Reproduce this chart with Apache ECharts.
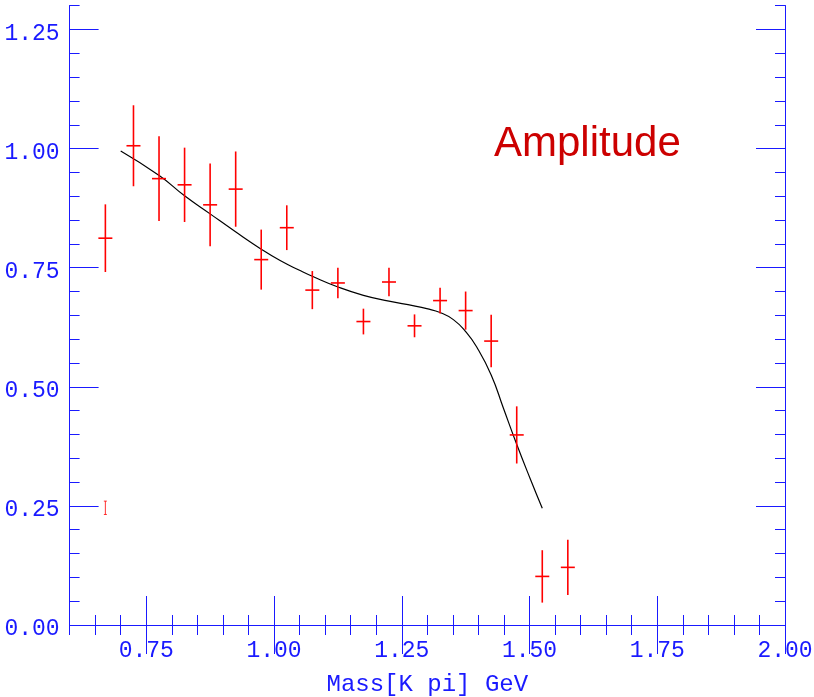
<!DOCTYPE html>
<html>
<head>
<meta charset="utf-8">
<script src="https://cdn.jsdelivr.net/npm/echarts@6/dist/echarts.min.js"></script>
<style>html,body{margin:0;padding:0;background:#fff}#c{width:814px;height:697px}</style>
</head>
<body>
<div id="c"></div>
<script>
// ---- data ----
const massX  = [0.670,0.725,0.775,0.825,0.875,0.925,0.975,1.025,1.075,1.125,1.175,1.225,1.275,1.325,1.375,1.425,1.475,1.525,1.575];
const amp    = [0.812,1.006,0.937,0.924,0.882,0.915,0.767,0.834,0.703,0.718,0.637,0.720,0.628,0.681,0.660,0.596,0.399,0.102,0.121];
const ampErr = [0.071,0.085,0.089,0.078,0.087,0.079,0.063,0.047,0.040,0.032,0.027,0.030,0.024,0.027,0.040,0.055,0.060,0.055,0.058];

const markX = [0.670];
const markY = [0.246];
const markErr = [0.014];

const fitX = [0.700,0.776,0.825,0.875,0.924,0.975,1.012,1.051,1.075,1.124,1.175,1.225,1.274,1.299,1.325,1.351,1.375,1.397,1.425,1.449,1.474,1.501,1.525];
const fitY = [0.995,0.943,0.901,0.863,0.826,0.789,0.765,0.744,0.732,0.710,0.692,0.680,0.670,0.664,0.656,0.641,0.616,0.583,0.525,0.455,0.382,0.308,0.245];

const xMajor = [0.75,1.00,1.25,1.50,1.75,2.00];
const yMajor = [0.00,0.25,0.50,0.75,1.00,1.25];
const xTitle = 'Mass[K pi] GeV';
const label = 'Amplitude';

// ---- styles ----
const BLUE = '#1a1aff';
const FONT = 'Liberation Mono';

function xAx(pos, major, showLabel) {
  const a = {
    type: 'value', min: 0.6, max: 2.0, position: pos,
    axisLine: { show: true, lineStyle: { color: BLUE, width: 1 } },
    splitLine: { show: false },
    axisTick: { show: true, inside: true, length: major ? 29 : 10, lineStyle: { color: BLUE, width: 1 } },
    axisLabel: { show: false }
  };
  if (major) {
    a.axisTick.customValues = xMajor;
    a.axisLabel = { show: showLabel, customValues: xMajor, color: BLUE, fontFamily: FONT, fontSize: 23, margin: 14,
      formatter: v => v.toFixed(2) };
    if (showLabel) {
      a.name = xTitle; a.nameLocation = 'middle'; a.nameGap = 48;
      a.nameTextStyle = { color: BLUE, fontFamily: FONT, fontSize: 24 };
    }
  } else {
    a.interval = 0.05;
  }
  return a;
}
function yAx(pos, major, showLabel) {
  const a = {
    type: 'value', min: 0, max: 1.3, position: pos,
    axisLine: { show: true, lineStyle: { color: BLUE, width: 1 } },
    splitLine: { show: false },
    axisTick: { show: true, inside: true, length: major ? 29 : 10, lineStyle: { color: BLUE, width: 1 } },
    axisLabel: { show: false }
  };
  if (major) {
    a.axisTick.customValues = yMajor;
    a.axisLabel = { show: showLabel, customValues: yMajor, color: BLUE, fontFamily: FONT, fontSize: 23, margin: 10,
      verticalAlign: 'top', lineHeight: 8, formatter: v => v.toFixed(2) };
  } else {
    a.interval = 0.05;
  }
  return a;
}

function errItem(halfW, capW, lw) {
  return function (params, api) {
    const x = api.value(0), y = api.value(1), e = api.value(2);
    const c = api.coord([x, y]);
    const t = api.coord([x, y + e]);
    const b = api.coord([x, y - e]);
    const st = { stroke: '#ff0000', lineWidth: lw };
    const ch = [
      { type: 'line', shape: { x1: c[0], y1: t[1], x2: c[0], y2: b[1] }, style: st }
    ];
    if (halfW > 0) ch.push({ type: 'line', shape: { x1: c[0] - halfW, y1: c[1], x2: c[0] + halfW, y2: c[1] }, style: st });
    if (capW > 0) {
      ch.push({ type: 'line', shape: { x1: c[0] - capW, y1: t[1], x2: c[0] + capW, y2: t[1] }, style: st });
      ch.push({ type: 'line', shape: { x1: c[0] - capW, y1: b[1], x2: c[0] + capW, y2: b[1] }, style: st });
    }
    return { type: 'group', children: ch };
  };
}

const chart = echarts.init(document.getElementById('c'), null, { renderer: 'canvas' });
chart.setOption({
  animation: false,
  backgroundColor: '#ffffff',
  grid: { left: 69.6, right: 29, top: 5.7, bottom: 72, containLabel: false, outerBoundsMode: 'none' },
  xAxis: [xAx('bottom', true, true), xAx('bottom', false), xAx('top', true, false), xAx('top', false)],
  yAxis: [yAx('left', true, true), yAx('left', false), yAx('right', true, false), yAx('right', false)],
  graphic: [{
    type: 'text', left: 494, top: 123,
    style: { text: label, fill: '#cc0000', font: '42px "Liberation Sans", Arial, sans-serif' }
  }],
  series: [
    {
      type: 'line', xAxisIndex: 0, yAxisIndex: 0, smooth: true, showSymbol: false,
      lineStyle: { color: '#000000', width: 1.2 },
      data: fitX.map((x, i) => [x, fitY[i]]), z: 2
    },
    {
      type: 'custom', xAxisIndex: 0, yAxisIndex: 0, renderItem: errItem(7, 0, 1.6),
      data: massX.map((x, i) => [x, amp[i], ampErr[i]]), z: 3
    },
    {
      type: 'custom', xAxisIndex: 0, yAxisIndex: 0, renderItem: errItem(0, 1.5, 0.8),
      data: markX.map((x, i) => [x, markY[i], markErr[i]]), z: 3
    }
  ]
});
</script>
</body>
</html>
